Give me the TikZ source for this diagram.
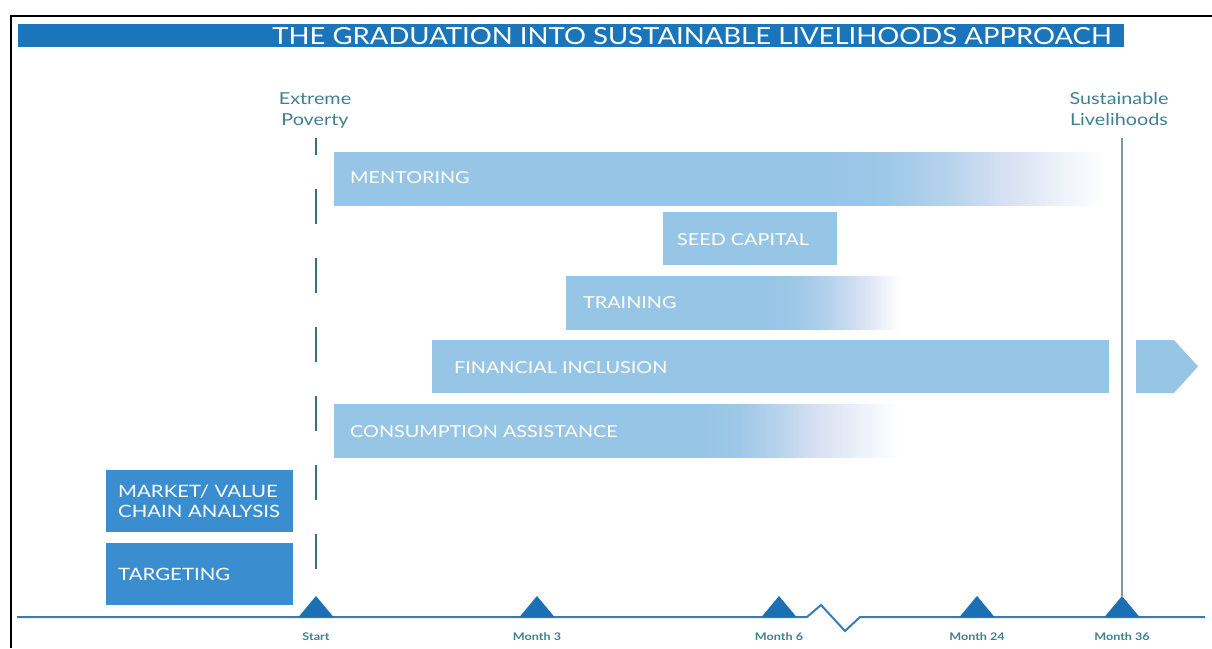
\documentclass[tikz,border=0pt]{standalone}
\usepackage{fontspec}
\setmainfont{Lato}
\newfontfamily\barfont[FakeStretch=1.2]{Lato}
\newfontfamily\titlefont[FakeStretch=1.17]{Lato}
\definecolor{titleblue}{HTML}{1A75BB}
\definecolor{boxblue}{HTML}{3A8ED0}
\definecolor{barblue}{HTML}{97C5E6}
\definecolor{fadeblue}{HTML}{D6E0F2}
\definecolor{tickblue}{HTML}{1B6FB5}
\definecolor{axisblue}{HTML}{3A7AB5}
\definecolor{labteal}{HTML}{3F7F91}
\definecolor{dashteal}{HTML}{3A6E7A}
\definecolor{endgrey}{HTML}{7D9AA3}
\colorlet{fadeone}{barblue!88!fadeblue}
\colorlet{fadetwo}{barblue!55!fadeblue}
% fades: the bar spans 25bp..75bp of each shading
\pgfdeclarehorizontalshading{mentorfade}{100bp}{color(0bp)=(barblue); color(57bp)=(barblue);
  color(61bp)=(fadeone); color(64.5bp)=(fadetwo); color(68.5bp)=(fadeblue); color(75bp)=(white); color(100bp)=(white)}
\pgfdeclarehorizontalshading{trainfade}{100bp}{color(0bp)=(barblue); color(55bp)=(barblue);
  color(59.5bp)=(fadeone); color(64bp)=(fadetwo); color(69bp)=(fadeblue); color(75bp)=(white); color(100bp)=(white)}
\pgfdeclarehorizontalshading{consumefade}{100bp}{color(0bp)=(barblue); color(57bp)=(barblue);
  color(60.5bp)=(fadeone); color(63.5bp)=(fadetwo); color(67bp)=(fadeblue); color(74.5bp)=(white); color(100bp)=(white)}

\begin{document}
\begin{tikzpicture}[x=1pt, y=-1pt,
  bartext/.style={anchor=base west, text=white, inner sep=0pt, font=\barfont\fontsize{16.5}{20}\selectfont},
  darkbox/.style={anchor=north west, fill=boxblue, text=white, minimum width=187pt, minimum height=62pt,
    inner xsep=12pt, text width=163pt, align=left, font=\barfont\fontsize{17}{20}\selectfont},
  milestone/.style={text=labteal, align=center, inner sep=0pt, font=\barfont\fontsize{16.5}{21}\selectfont},
  ticklabel/.style={text=labteal, inner sep=0pt, font=\barfont\bfseries\fontsize{10.5}{12}\selectfont}]

\useasboundingbox (0,0) rectangle (1212,648);

% frame and title
\draw[black, line width=2pt] (1212,16) -- (11,16) -- (11,648);
\fill[titleblue] (18,24) rectangle (1124,47);
\node[text=white, inner sep=0pt, font=\titlefont\fontsize{23.5}{26}\selectfont] (title) at (692,36)
  {THE GRADUATION INTO SUSTAINABLE LIVELIHOODS APPROACH};

\node[milestone] (poverty) at (315,111) {Extreme\\Poverty};
\node[milestone] (livelihoods) at (1119,109) {Sustainable\\Livelihoods};

% time line
\draw[axisblue, line width=2pt] (17,617) -- (807,617) -- (821,605) -- (845,631) -- (860,617) -- (1205,617);

\coordinate (dashtop) at (316,138);
\coordinate (endtop) at (1122,138);
\coordinate (start) at (316,596);
\coordinate (m36) at (1122,596);
\draw[dashteal, line width=2.5pt, dash pattern=on 35pt off 34pt, dash phase=18pt] (dashtop) -- (start);
\draw[endgrey, line width=2pt] (endtop) -- (m36);

\foreach \x/\lab in {316/Start, 537/Month 3, 779/Month 6, 977/Month 24, 1122/Month 36} {
  \fill[tickblue] (\x-17.5,617) -- (\x,596) -- (\x+17.5,617) -- cycle;
  \node[ticklabel] (lab-\x) at (\x,637) {\lab};
}

% bars
\shade[shading=mentorfade] (334,152) rectangle (1104,205);
\node[bartext] (mentoring) at (350,183) {MENTORING};

\fill[barblue] (663,212) rectangle (837,265);
\node[bartext] (seed) at (677,245) {SEED CAPITAL};

\shade[shading=trainfade] (566,276) rectangle (900,329);
\node[bartext] (training) at (583,308) {TRAINING};

\fill[barblue] (432,340) rectangle (1109,393);
\fill[barblue] (1136,340) -- (1174,340) -- (1198,366.5) -- (1174,393) -- (1136,393) -- cycle;
\node[bartext] (finance) at (454,373) {FINANCIAL INCLUSION};

\shade[shading=consumefade] (334,404) rectangle (905,457);
\node[bartext] (consumption) at (350,437) {CONSUMPTION ASSISTANCE};

% preparation
\node[darkbox] (market) at (106,470) {MARKET/ VALUE\\CHAIN ANALYSIS};
\node[darkbox] (targeting) at (106,543) {TARGETING};

\end{tikzpicture}
\end{document}
